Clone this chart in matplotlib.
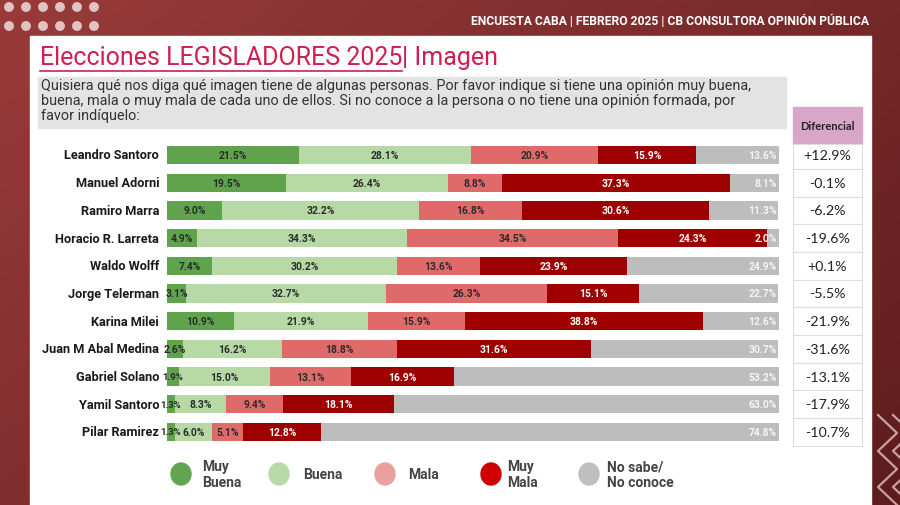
import numpy as np
import matplotlib
matplotlib.use("Agg")
import matplotlib.pyplot as plt
from matplotlib.patches import Rectangle, Ellipse
from matplotlib.lines import Line2D

plt.rcParams['font.family'] = ['Roboto', 'DejaVu Sans']

# --- data ---
names = ['Leandro Santoro', 'Manuel Adorni', 'Ramiro Marra', 'Horacio R. Larreta',
         'Waldo Wolff', 'Jorge Telerman', 'Karina Milei', 'Juan M Abal Medina',
         'Gabriel Solano', 'Yamil Santoro', 'Pilar Ramirez']
muy_buena = [21.5, 19.5, 9.0, 4.9, 7.4, 3.1, 10.9, 2.6, 1.9, 1.3, 1.3]
buena = [28.1, 26.4, 32.2, 34.3, 30.2, 32.7, 21.9, 16.2, 15.0, 8.3, 6.0]
mala = [20.9, 8.8, 16.8, 34.5, 13.6, 26.3, 15.9, 18.8, 13.1, 9.4, 5.1]
muy_mala = [15.9, 37.3, 30.6, 24.3, 23.9, 15.1, 38.8, 31.6, 16.9, 18.1, 12.8]
no_sabe = [13.6, 8.1, 11.3, 2.0, 24.9, 22.7, 12.6, 30.7, 53.2, 63.0, 74.8]
diferencial = ['+12.9%', '-0.1%', '-6.2%', '-19.6%', '+0.1%', '-5.5%',
               '-21.9%', '-31.6%', '-13.1%', '-17.9%', '-10.7%']
legend_labels = ['Muy\nBuena', 'Buena', 'Mala', 'Muy\nMala', 'No sabe/\nNo conoce']

series = [muy_buena, buena, mala, muy_mala, no_sabe]
bar_colors = ['#5FA34D', '#B6D9A6', '#E06A6A', '#9E0000', '#BDBDBD']
text_colors = ['#2b2b2b', '#2b2b2b', '#2b2b2b', 'white', '#F4F4F4']
legend_colors = ['#62A550', '#B7DAA8', '#EBA0A0', '#D00000', '#BFBFBF']

W, H = 900, 506
fig = plt.figure(figsize=(9, 5.06), dpi=100)

# background axes in pixel coordinates (y down)
bg = fig.add_axes([0, 0, 1, 1], zorder=-10)
gx = np.linspace(0, 1, 300)
gy = np.linspace(0, 1, 200)
GX, GY = np.meshgrid(gx, gy)
t = np.clip(0.6 * GX + 0.4 * GY, 0, 1)
c0 = np.array([0.60, 0.23, 0.23])
c1 = np.array([0.37, 0.11, 0.11])
img = c0[None, None, :] * (1 - t[..., None]) + c1[None, None, :] * t[..., None]
bg.imshow(img, extent=[0, W, H, 0], aspect='auto')
bg.set_xlim(0, W)
bg.set_ylim(H, 0)
bg.axis('off')

# decorative dots
for row_y in (8, 27):
    for k in range(6):
        bg.add_patch(Ellipse((9 + 17 * k, row_y), 8.5, 8.5, color='#E3C2C2'))

# chevrons bottom right
for off in (0, 15):
    xs = [878 + off if k % 2 == 0 else 897 + off for k in range(6)]
    ys = [416 + k * 18 for k in range(6)]
    bg.add_line(Line2D(xs, ys, color='#E8CFCF', lw=1.6, alpha=0.75))

# white panel
bg.add_patch(Rectangle((30, 37), 871 - 30, H - 37, color='white', zorder=1))

fig.text(869 / W, 1 - 21 / H, 'ENCUESTA CABA | FEBRERO 2025 | CB CONSULTORA OPINIÓN PÚBLICA',
         color='white', fontsize=8.7, fontweight='bold', ha='right', va='center')

# title
title_col = '#D01F50'
t1 = fig.text(40 / W, 1 - 58 / H, 'Elecciones LEGISLADORES 2025', color=title_col,
              fontsize=18, ha='left', va='center')
fig.canvas.draw()
bb = t1.get_window_extent()
fig.text(bb.x1 / W, 1 - 58 / H, '| Imagen', color=title_col, fontsize=18,
         ha='left', va='center')
bg.add_line(Line2D([bb.x0, bb.x1], [H - bb.y0 + 1.5] * 2, color=title_col, lw=1.2,
                   zorder=3))

# question box
bg.add_patch(Rectangle((38, 78), 786 - 38, 129 - 78, color='#E3E3E3', zorder=2))
fig.text(41 / W, 1 - 79 / H,
         'Quisiera qué nos diga qué imagen tiene de algunas personas. Por favor indique si tiene una opinión muy buena,\n'
         'buena, mala o muy mala de cada uno de ellos. Si no conoce a la persona o no tiene una opinión formada, por\n'
         'favor indíquelo:', color='#333333', fontsize=10.4, ha='left', va='top',
         linespacing=1.08)

# bars
top_c, bot_c = 156, 433
step = (bot_c - top_c) / (len(names) - 1)
ax_top = top_c - step / 2
ax_bot = bot_c + step / 2
ax = fig.add_axes([167 / W, 1 - ax_bot / H, (779 - 167) / W, (ax_bot - ax_top) / H])
y = np.arange(len(names))
left = np.zeros(len(names))
for j, (vals, col, tc) in enumerate(zip(series, bar_colors, text_colors)):
    vals = np.array(vals)
    ax.barh(y, vals, left=left, height=0.66, color=col, edgecolor='none')
    for i, v in enumerate(vals):
        if j == len(series) - 1:
            xpos, ha = 99.6, 'right'
        else:
            xpos, ha = left[i] + v / 2, 'center'
        fs = 6.8 if v < 2 else 7.4
        ax.text(xpos, y[i], f'{v:.1f}%', ha=ha, va='center',
                fontsize=fs, fontweight='bold', color=tc)
    left += vals
ax.set_xlim(0, 100)
ax.set_ylim(len(names) - 0.5, -0.5)
ax.axis('off')
for i, n in enumerate(names):
    ax.text(-1.3, i, n, ha='right', va='center', fontsize=9.2, fontweight='bold',
            color='#1a1a1a')

# diferencial table
tx0, tx1 = 793, 862
bg.add_patch(Rectangle((tx0, 108), tx1 - tx0, 145 - 108, color='#D8A6C6', zorder=3))
fig.text((tx0 + tx1) / 2 / W, 1 - 127 / H, 'Diferencial', ha='center', va='center',
         fontsize=8, fontweight='bold', color='#222222', family=['Lato', 'DejaVu Sans'])
for i, d in enumerate(diferencial):
    yt = ax_top + i * step if i > 0 else 145
    yb = ax_top + (i + 1) * step
    bg.add_patch(Rectangle((tx0, yt), tx1 - tx0, yb - yt, facecolor='white',
                           edgecolor='#DDDDDD', lw=0.8, zorder=3))
    fig.text((tx0 + tx1) / 2 / W, 1 - (top_c + i * step) / H, d, ha='center',
             va='center', fontsize=10.3, color='#222222', family=['Lato', 'DejaVu Sans'])

# legend
leg_x = [181, 279, 385, 491, 589]
leg_dx = [21, 24, 23, 16, 18]
for lx, dx, lab, col in zip(leg_x, leg_dx, legend_labels, legend_colors):
    bg.add_patch(Ellipse((lx, 475), 20, 22, color=col, zorder=3))
    fig.text((lx + dx) / W, 1 - 475 / H, lab, ha='left', va='center', fontsize=10,
             color='#444444', fontweight='bold', linespacing=1.15)

fig.savefig('out.png', dpi=100)
